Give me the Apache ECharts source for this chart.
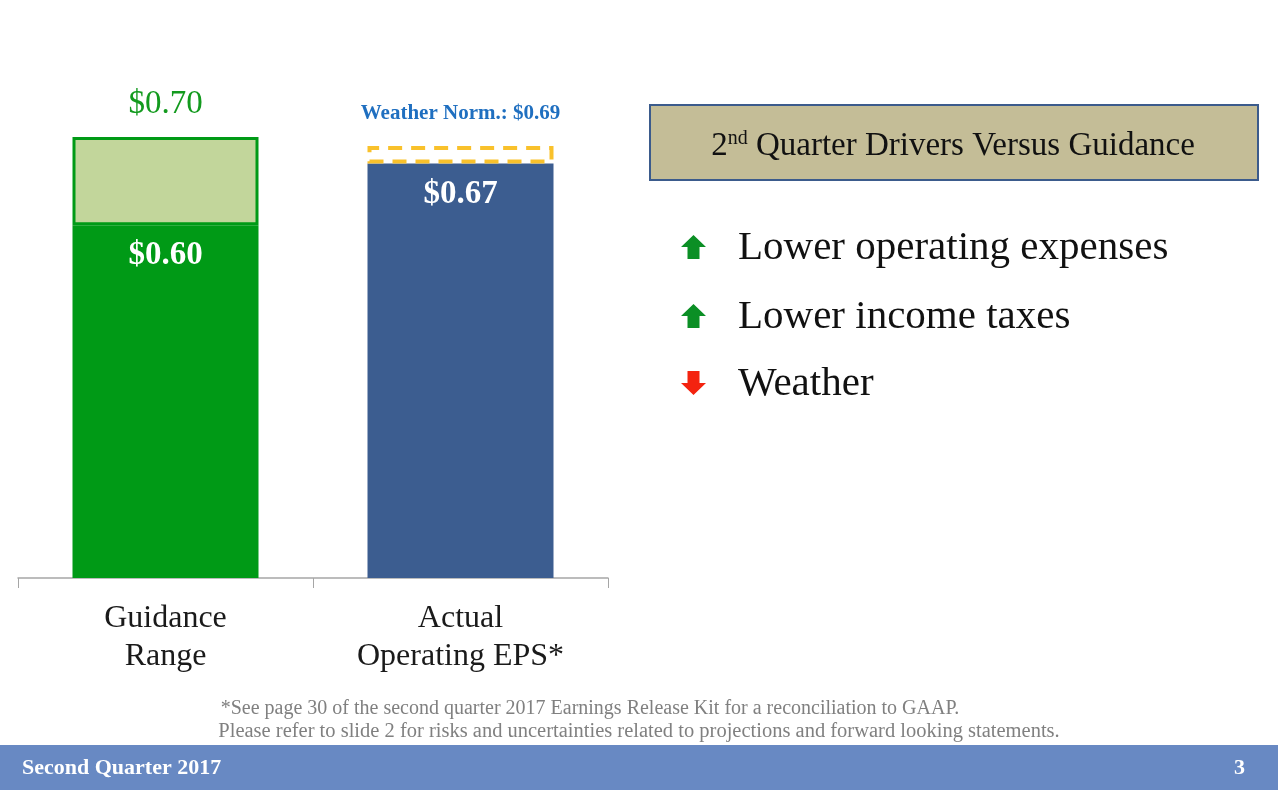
<!DOCTYPE html>
<html>
<head>
<meta charset="utf-8">
<script src="https://cdn.jsdelivr.net/npm/echarts@6/dist/echarts.min.js"></script>
<style>
  html, body { margin: 0; padding: 0; background: #fff; }
  #chart { width: 1278px; height: 790px; }
</style>
</head>
<body>
<div id="chart"></div>
<script>
const categories = ['Guidance\nRange', 'Actual\nOperating EPS*'];
const guidanceLow = 0.60;
const guidanceHigh = 0.70;
const actualEps = 0.67;
const weatherNorm = 0.69;
const drivers = ['Lower operating expenses', 'Lower income taxes', 'Weather'];
const driverUp = [true, true, false];

const FONT = 'Liberation Serif';
const money = v => '$' + v.toFixed(2);

// arrow glyph, 25 wide, 24 tall, drawn around its own origin
function arrow(up) {
  const pts = up
    ? [[12.5, 0], [25, 12], [18.5, 12], [18.5, 24], [6.5, 24], [6.5, 12], [0, 12]]
    : [[6.5, 0], [18.5, 0], [18.5, 12], [25, 12], [12.5, 24], [0, 12], [6.5, 12]];
  return pts;
}

const driverY = [247, 316, 383];
const driverGraphics = [];
drivers.forEach((d, i) => {
  driverGraphics.push({
    type: 'polygon',
    x: 681, y: driverY[i] - 12,
    shape: {points: arrow(driverUp[i])},
    style: {fill: driverUp[i] ? '#0b8f25' : '#f4230f'}
  });
  driverGraphics.push({
    type: 'text',
    x: 738, y: driverY[i] + 1,
    style: {
      text: d, font: '41px "' + FONT + '"', fill: '#111',
      verticalAlign: 'middle'
    }
  });
});

const chart = echarts.init(document.getElementById('chart'));
chart.setOption({
  animation: false,
  backgroundColor: '#fff',
  grid: {left: 18, right: 670, top: 93, bottom: 212},
  xAxis: {
    type: 'category',
    data: categories,
    axisLine: {lineStyle: {color: '#a6a6a6', width: 1.5}},
    axisTick: {show: true, length: 10, lineStyle: {color: '#a6a6a6'}},
    axisLabel: {
      fontFamily: FONT, fontSize: 32, color: '#1a1a1a',
      lineHeight: 38, margin: 22, interval: 0
    }
  },
  yAxis: {
    type: 'value', min: 0.2, max: 0.75, show: false,
    splitLine: {show: false}
  },
  series: [
    {
      name: 'Guidance low',
      type: 'bar', stack: 'eps', barWidth: 186,
      data: [guidanceLow, '-'],
      itemStyle: {color: '#009a16'},
      label: {
        show: true, position: 'insideTop', distance: 14,
        formatter: p => money(p.value),
        fontFamily: FONT, fontSize: 33, fontWeight: 'bold', color: '#fff'
      }
    },
    {
      name: 'Guidance range',
      type: 'bar', stack: 'eps',
      data: [guidanceHigh - guidanceLow, '-'],
      itemStyle: {color: '#c2d69b', borderColor: '#009a16', borderWidth: 3},
      label: {
        show: true, position: 'top', distance: 16,
        formatter: () => money(guidanceHigh),
        fontFamily: FONT, fontSize: 33, color: '#139a1e'
      }
    },
    {
      name: 'Actual',
      type: 'bar', stack: 'eps',
      data: ['-', actualEps],
      itemStyle: {color: '#3c5d90'},
      label: {
        show: true, position: 'insideTop', distance: 14,
        formatter: p => money(p.value),
        fontFamily: FONT, fontSize: 33, fontWeight: 'bold', color: '#fff'
      }
    },
    {
      name: 'Weather normalized',
      type: 'bar', stack: 'eps',
      data: ['-', weatherNorm - actualEps],
      itemStyle: {
        color: 'rgba(0,0,0,0)', borderColor: '#f9c12b',
        borderWidth: 4, borderType: [14, 9]
      },
      label: {
        show: true, position: 'top', distance: 22,
        formatter: () => 'Weather Norm.: ' + money(weatherNorm),
        fontFamily: FONT, fontSize: 21, fontWeight: 'bold', color: '#1f6fc0'
      }
    }
  ],
  graphic: [
    {
      type: 'rect',
      shape: {x: 650, y: 105, width: 608, height: 75},
      style: {fill: '#c4bd97', stroke: '#3b5b8c', lineWidth: 2}
    },
    {
      type: 'text',
      x: 953, y: 146,
      style: {
        text: '{a|2}{s|nd}{a| Quarter Drivers Versus Guidance}',
        rich: {
          a: {fontFamily: FONT, fontSize: 33, fill: '#111', color: '#111'},
          s: {fontFamily: FONT, fontSize: 20, fill: '#111', color: '#111',
              verticalAlign: 'top', padding: [0, 0, 14, 0]}
        },
        align: 'center', verticalAlign: 'middle'
      }
    },
    ...driverGraphics,
    {
      type: 'text', x: 590, y: 709,
      style: {
        text: '*See page 30 of the second quarter 2017 Earnings Release Kit for a reconciliation to GAAP.',
        font: '20px "' + FONT + '"', fill: '#808080', align: 'center', verticalAlign: 'middle'
      }
    },
    {
      type: 'text', x: 639, y: 732,
      style: {
        text: 'Please refer to slide 2 for risks and uncertainties related to projections and forward looking statements.',
        font: '20.5px "' + FONT + '"', fill: '#808080', align: 'center', verticalAlign: 'middle'
      }
    },
    {
      type: 'rect',
      shape: {x: 0, y: 745, width: 1278, height: 45},
      style: {fill: '#6889c3'}
    },
    {
      type: 'text', x: 22, y: 768,
      style: {
        text: 'Second Quarter 2017', font: 'bold 22px "' + FONT + '"',
        fill: '#fff', verticalAlign: 'middle'
      }
    },
    {
      type: 'text', x: 1245, y: 768,
      style: {
        text: '3', font: 'bold 22px "' + FONT + '"',
        fill: '#fff', align: 'right', verticalAlign: 'middle'
      }
    }
  ]
});
</script>
</body>
</html>
